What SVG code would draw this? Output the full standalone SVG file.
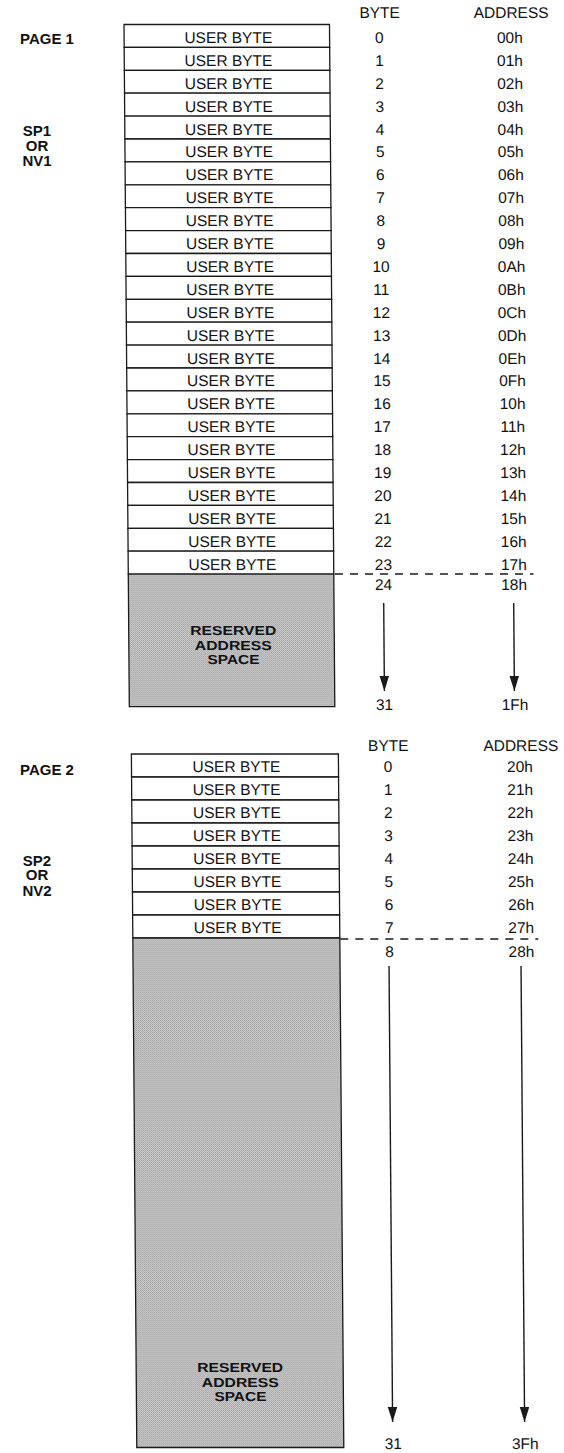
<svg xmlns="http://www.w3.org/2000/svg" width="564" height="1453" viewBox="0 0 564 1453">
<style>
  .cell { fill: #ffffff; stroke: #1a1a1a; stroke-width: 1.3; }
  .res { fill: url(#stipple); stroke: #1a1a1a; stroke-width: 1.3; }
  .t { font-family: "Liberation Sans", Arial, sans-serif; font-size: 15.5px; fill: #111; text-anchor: middle; }
  .lbl { font-family: "Liberation Sans", Arial, sans-serif; font-size: 15px; font-weight: bold; fill: #111; }
  .rt { font-family: "Liberation Sans", Arial, sans-serif; font-size: 13px; font-weight: bold; fill: #111; text-anchor: middle; }
  .dash { stroke: #1a1a1a; stroke-width: 1.3; stroke-dasharray: 8 7; fill: none; }
  .arr { stroke: #1a1a1a; stroke-width: 1.4; fill: none; marker-end: url(#ah); }
</style>
<defs>
  <pattern id="stipple" patternUnits="userSpaceOnUse" width="2" height="2">
    <rect width="2" height="2" fill="#d2d2d2"/>
    <rect x="0" y="0" width="1" height="1" fill="#9c9c9c"/>
    <rect x="1" y="1" width="1" height="1" fill="#a8a8a8"/>
  </pattern>
  <marker id="ah" markerUnits="userSpaceOnUse" markerWidth="15" markerHeight="10" refX="15" refY="4.75" orient="auto">
    <path d="M0,0 L15,4.75 L0,9.5 Z" fill="#1a1a1a"/>
  </marker>
</defs>
<rect width="564" height="1453" fill="#ffffff"/>

<g id="labels-left">
  <text class="lbl" x="20" y="43.5">PAGE 1</text>
  <g id="sp1">
    <text class="lbl" x="37" y="136.3" text-anchor="middle">SP1</text>
    <text class="lbl" x="37" y="150.6" text-anchor="middle">OR</text>
    <text class="lbl" x="37" y="166" text-anchor="middle">NV1</text>
  </g>
  <text class="lbl" x="20" y="774.5">PAGE 2</text>
  <g id="sp2">
    <text class="lbl" x="37" y="865.5" text-anchor="middle">SP2</text>
    <text class="lbl" x="37" y="880" text-anchor="middle">OR</text>
    <text class="lbl" x="37" y="895.5" text-anchor="middle">NV2</text>
  </g>
</g>

<g transform="skewX(0.447)">
  <!-- PAGE 1 -->
  <g id="page1-headers">
    <text class="t" x="379.5" y="18">BYTE</text>
    <text class="t" x="511" y="18">ADDRESS</text>
  </g>
  <g id="page1-table">
    <rect class="cell" x="123.8" y="24.5" width="205.5" height="22.9"/>
    <rect class="cell" x="123.8" y="47.4" width="205.5" height="22.9"/>
    <rect class="cell" x="123.8" y="70.3" width="205.5" height="22.9"/>
    <rect class="cell" x="123.8" y="93.2" width="205.5" height="22.9"/>
    <rect class="cell" x="123.8" y="116.1" width="205.5" height="22.9"/>
    <rect class="cell" x="123.8" y="139" width="205.5" height="22.9"/>
    <rect class="cell" x="123.8" y="161.9" width="205.5" height="22.9"/>
    <rect class="cell" x="123.8" y="184.8" width="205.5" height="22.9"/>
    <rect class="cell" x="123.8" y="207.7" width="205.5" height="22.9"/>
    <rect class="cell" x="123.8" y="230.6" width="205.5" height="22.9"/>
    <rect class="cell" x="123.8" y="253.5" width="205.5" height="22.9"/>
    <rect class="cell" x="123.8" y="276.4" width="205.5" height="22.9"/>
    <rect class="cell" x="123.8" y="299.3" width="205.5" height="22.9"/>
    <rect class="cell" x="123.8" y="322.2" width="205.5" height="22.9"/>
    <rect class="cell" x="123.8" y="345.1" width="205.5" height="22.9"/>
    <rect class="cell" x="123.8" y="368" width="205.5" height="22.9"/>
    <rect class="cell" x="123.8" y="390.9" width="205.5" height="22.9"/>
    <rect class="cell" x="123.8" y="413.8" width="205.5" height="22.9"/>
    <rect class="cell" x="123.8" y="436.7" width="205.5" height="22.9"/>
    <rect class="cell" x="123.8" y="459.6" width="205.5" height="22.9"/>
    <rect class="cell" x="123.8" y="482.5" width="205.5" height="22.9"/>
    <rect class="cell" x="123.8" y="505.4" width="205.5" height="22.9"/>
    <rect class="cell" x="123.8" y="528.3" width="205.5" height="22.9"/>
    <rect class="cell" x="123.8" y="551.2" width="205.5" height="22.9"/>
    <text class="t" x="228" y="43">USER BYTE</text>
    <text class="t" x="228" y="65.9">USER BYTE</text>
    <text class="t" x="228" y="88.8">USER BYTE</text>
    <text class="t" x="228" y="111.7">USER BYTE</text>
    <text class="t" x="228" y="134.6">USER BYTE</text>
    <text class="t" x="228" y="157.5">USER BYTE</text>
    <text class="t" x="228" y="180.4">USER BYTE</text>
    <text class="t" x="228" y="203.3">USER BYTE</text>
    <text class="t" x="228" y="226.2">USER BYTE</text>
    <text class="t" x="228" y="249.1">USER BYTE</text>
    <text class="t" x="228" y="272">USER BYTE</text>
    <text class="t" x="228" y="294.9">USER BYTE</text>
    <text class="t" x="228" y="317.8">USER BYTE</text>
    <text class="t" x="228" y="340.7">USER BYTE</text>
    <text class="t" x="228" y="363.6">USER BYTE</text>
    <text class="t" x="228" y="386.5">USER BYTE</text>
    <text class="t" x="228" y="409.4">USER BYTE</text>
    <text class="t" x="228" y="432.3">USER BYTE</text>
    <text class="t" x="228" y="455.2">USER BYTE</text>
    <text class="t" x="228" y="478.1">USER BYTE</text>
    <text class="t" x="228" y="501">USER BYTE</text>
    <text class="t" x="228" y="523.9">USER BYTE</text>
    <text class="t" x="228" y="546.8">USER BYTE</text>
    <text class="t" x="228" y="569.7">USER BYTE</text>
  </g>
  <g id="page1-reserved">
    <rect class="res" x="123.8" y="574.1" width="205.5" height="132.6"/>
    <text class="rt" x="228.3" y="635.3" textLength="86" lengthAdjust="spacingAndGlyphs">RESERVED</text>
    <text class="rt" x="228.3" y="649.8" textLength="77" lengthAdjust="spacingAndGlyphs">ADDRESS</text>
    <text class="rt" x="228.3" y="664.3" textLength="52" lengthAdjust="spacingAndGlyphs">SPACE</text>
  </g>
  <g id="page1-bytes">
    <text class="t" x="379" y="43">0</text>
    <text class="t" x="379" y="65.9">1</text>
    <text class="t" x="379" y="88.8">2</text>
    <text class="t" x="379" y="111.7">3</text>
    <text class="t" x="379" y="134.6">4</text>
    <text class="t" x="379" y="157.5">5</text>
    <text class="t" x="379" y="180.4">6</text>
    <text class="t" x="379" y="203.3">7</text>
    <text class="t" x="379" y="226.2">8</text>
    <text class="t" x="379" y="249.1">9</text>
    <text class="t" x="379" y="272">10</text>
    <text class="t" x="379" y="294.9">11</text>
    <text class="t" x="379" y="317.8">12</text>
    <text class="t" x="379" y="340.7">13</text>
    <text class="t" x="379" y="363.6">14</text>
    <text class="t" x="379" y="386.5">15</text>
    <text class="t" x="379" y="409.4">16</text>
    <text class="t" x="379" y="432.3">17</text>
    <text class="t" x="379" y="455.2">18</text>
    <text class="t" x="379" y="478.1">19</text>
    <text class="t" x="379" y="501">20</text>
    <text class="t" x="379" y="523.9">21</text>
    <text class="t" x="379" y="546.8">22</text>
    <text class="t" x="379" y="569.7">23</text>
    <text class="t" x="379" y="590.5">24</text>
    <text class="t" x="379" y="710">31</text>
  </g>
  <g id="page1-addresses">
    <text class="t" x="509.5" y="43">00h</text>
    <text class="t" x="509.5" y="65.9">01h</text>
    <text class="t" x="509.5" y="88.8">02h</text>
    <text class="t" x="509.5" y="111.7">03h</text>
    <text class="t" x="509.5" y="134.6">04h</text>
    <text class="t" x="509.5" y="157.5">05h</text>
    <text class="t" x="509.5" y="180.4">06h</text>
    <text class="t" x="509.5" y="203.3">07h</text>
    <text class="t" x="509.5" y="226.2">08h</text>
    <text class="t" x="509.5" y="249.1">09h</text>
    <text class="t" x="509.5" y="272">0Ah</text>
    <text class="t" x="509.5" y="294.9">0Bh</text>
    <text class="t" x="509.5" y="317.8">0Ch</text>
    <text class="t" x="509.5" y="340.7">0Dh</text>
    <text class="t" x="509.5" y="363.6">0Eh</text>
    <text class="t" x="509.5" y="386.5">0Fh</text>
    <text class="t" x="509.5" y="409.4">10h</text>
    <text class="t" x="509.5" y="432.3">11h</text>
    <text class="t" x="509.5" y="455.2">12h</text>
    <text class="t" x="509.5" y="478.1">13h</text>
    <text class="t" x="509.5" y="501">14h</text>
    <text class="t" x="509.5" y="523.9">15h</text>
    <text class="t" x="509.5" y="546.8">16h</text>
    <text class="t" x="509.5" y="569.7">17h</text>
    <text class="t" x="509.5" y="590.5">18h</text>
    <text class="t" x="509.5" y="710">1Fh</text>
  </g>

  <!-- PAGE 2 -->
  <g id="page2-headers">
    <text class="t" x="382.5" y="751.5">BYTE</text>
    <text class="t" x="515" y="751.5">ADDRESS</text>
  </g>
  <g id="page2-table">
    <rect class="cell" x="125.5" y="754" width="207" height="23"/>
    <rect class="cell" x="125.5" y="777" width="207" height="23"/>
    <rect class="cell" x="125.5" y="800" width="207" height="23"/>
    <rect class="cell" x="125.5" y="823" width="207" height="23"/>
    <rect class="cell" x="125.5" y="846" width="207" height="23"/>
    <rect class="cell" x="125.5" y="869" width="207" height="23"/>
    <rect class="cell" x="125.5" y="892" width="207" height="23"/>
    <rect class="cell" x="125.5" y="915" width="207" height="23"/>
    <text class="t" x="230.5" y="772.5">USER BYTE</text>
    <text class="t" x="230.5" y="795.5">USER BYTE</text>
    <text class="t" x="230.5" y="818.5">USER BYTE</text>
    <text class="t" x="230.5" y="841.5">USER BYTE</text>
    <text class="t" x="230.5" y="864.5">USER BYTE</text>
    <text class="t" x="230.5" y="887.5">USER BYTE</text>
    <text class="t" x="230.5" y="910.5">USER BYTE</text>
    <text class="t" x="230.5" y="933.5">USER BYTE</text>
  </g>
  <g id="page2-reserved">
    <rect class="res" x="125.5" y="938" width="207" height="509.5"/>
    <text class="rt" x="229.5" y="1372.3" textLength="86" lengthAdjust="spacingAndGlyphs">RESERVED</text>
    <text class="rt" x="229.5" y="1386.8" textLength="77" lengthAdjust="spacingAndGlyphs">ADDRESS</text>
    <text class="rt" x="229.5" y="1401.3" textLength="52" lengthAdjust="spacingAndGlyphs">SPACE</text>
  </g>
  <g id="page2-bytes">
    <text class="t" x="382" y="772.5">0</text>
    <text class="t" x="382" y="795.5">1</text>
    <text class="t" x="382" y="818.5">2</text>
    <text class="t" x="382" y="841.5">3</text>
    <text class="t" x="382" y="864.5">4</text>
    <text class="t" x="382" y="887.5">5</text>
    <text class="t" x="382" y="910.5">6</text>
    <text class="t" x="382" y="933.5">7</text>
    <text class="t" x="382" y="957">8</text>
    <text class="t" x="382" y="1449.5">31</text>
  </g>
  <g id="page2-addresses">
    <text class="t" x="514" y="772.5">20h</text>
    <text class="t" x="514" y="795.5">21h</text>
    <text class="t" x="514" y="818.5">22h</text>
    <text class="t" x="514" y="841.5">23h</text>
    <text class="t" x="514" y="864.5">24h</text>
    <text class="t" x="514" y="887.5">25h</text>
    <text class="t" x="514" y="910.5">26h</text>
    <text class="t" x="514" y="933.5">27h</text>
    <text class="t" x="514" y="957">28h</text>
    <text class="t" x="514" y="1449.5">3Fh</text>
  </g>

  <g id="connectors">
    <line class="dash" x1="330.5" y1="574" x2="529" y2="574"/>
    <line class="arr" x1="379" y1="603" x2="379" y2="691"/>
    <line class="arr" x1="509" y1="603" x2="509" y2="691"/>
    <line class="dash" x1="333" y1="939" x2="531" y2="939"/>
    <line class="arr" x1="381.5" y1="966" x2="381.5" y2="1422"/>
    <line class="arr" x1="513.5" y1="966" x2="513.5" y2="1422"/>
  </g>
</g>
</svg>
